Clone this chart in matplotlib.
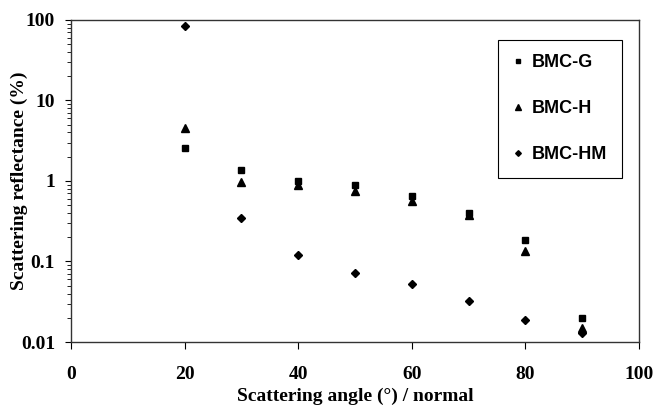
import numpy as np
import matplotlib.pyplot as plt
from matplotlib.ticker import LogLocator, NullFormatter

angle = [20, 30, 40, 50, 60, 70, 80, 90]
bmc_g = [2.57, 1.37, 1.0, 0.89, 0.65, 0.40, 0.185, 0.020]
bmc_h = [4.55, 0.98, 0.88, 0.76, 0.57, 0.38, 0.135, 0.015]
bmc_hm = [84, 0.35, 0.12, 0.072, 0.052, 0.032, 0.019, 0.013]

fig = plt.figure(figsize=(6.54, 4.07), dpi=100)
ax = fig.add_axes([0.1086, 0.1597, 0.8684, 0.7913])

ax.plot(angle, bmc_g, ls='none', marker='s', ms=4.3, c='black', label='BMC-G')
ax.plot(angle, bmc_h, ls='none', marker='^', ms=5.2, c='black', label='BMC-H')
ax.plot(angle, bmc_hm, ls='none', marker='D', ms=3.6, c='black', label='BMC-HM')

ax.set_yscale('log')
ax.set_xlim(0, 100)
ax.set_ylim(0.01, 100)
ax.set_xticks([0, 20, 40, 60, 80, 100])
ax.set_yticks([0.01, 0.1, 1, 10, 100])
ax.set_yticklabels(['0.01', '0.1', '1', '10', '100'])
ax.yaxis.set_minor_locator(LogLocator(base=10, subs=np.arange(2, 10)))
ax.yaxis.set_minor_formatter(NullFormatter())

serif = {'family': 'Liberation Serif', 'weight': 'bold', 'size': 14}
for lab in ax.get_xticklabels() + ax.get_yticklabels():
    lab.set_fontproperties('Liberation Serif')
    lab.set_fontweight('bold')
    lab.set_fontsize(14)
ax.tick_params(axis='x', which='major', direction='out', length=5, pad=12)
ax.tick_params(axis='y', which='major', direction='out', length=4.5, pad=7)
ax.tick_params(axis='y', which='minor', direction='out', length=3)
ax.set_xlabel('Scattering angle (°) / normal', fontdict=serif)
ax.xaxis.set_label_coords(0.5, -0.143)
ax.set_ylabel('Scattering reflectance (%)', fontdict=serif)
ax.yaxis.set_label_coords(-0.075, 0.5)

for s in ax.spines.values():
    s.set_color('#333333')
    s.set_linewidth(1.0)

leg = ax.legend(loc='upper right', bbox_to_anchor=(0.970, 0.938), fancybox=False,
                edgecolor='black', framealpha=1, handlelength=0.6, handletextpad=0.5,
                labelspacing=1.6, borderpad=0.8, borderaxespad=0, markerscale=0.8,
                prop={'family': 'Liberation Sans', 'weight': 'bold', 'size': 13})
leg.get_frame().set_linewidth(0.8)

fig.savefig('out.png', dpi=100)
